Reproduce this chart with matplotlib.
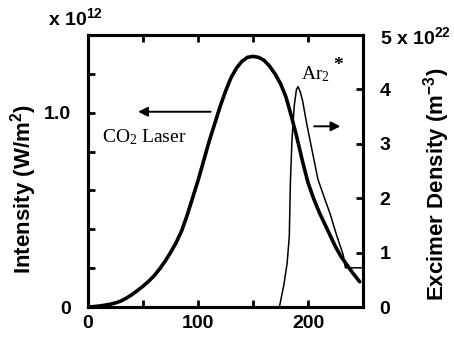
import matplotlib
matplotlib.use("Agg")
import matplotlib.pyplot as plt
from matplotlib.ticker import MultipleLocator, FixedLocator

plt.rcParams["font.family"] = ["Liberation Sans", "DejaVu Sans"]
plt.rcParams["font.weight"] = "bold"
plt.rcParams["mathtext.default"] = "regular"

# CO2 laser pulse intensity (units of 1e12 W/m^2) vs time
laser_t = [0, 5, 10, 15, 20, 25, 30, 35, 40, 45, 50, 55, 60, 65, 70, 75, 80, 85,
           90, 95, 100, 105, 110, 115, 120, 125, 130, 135, 140, 145, 150, 155,
           160, 165, 170, 175, 180, 185, 190, 195, 200, 205, 210, 215, 220, 225,
           230, 235, 240, 247]
laser_i = [0.00, 0.002, 0.005, 0.009, 0.014, 0.021, 0.031, 0.046, 0.064, 0.085,
           0.107, 0.132, 0.160, 0.195, 0.235, 0.28, 0.33, 0.39, 0.47, 0.56, 0.65,
           0.75, 0.85, 0.94, 1.03, 1.11, 1.18, 1.23, 1.265, 1.285, 1.29, 1.285,
           1.27, 1.24, 1.20, 1.15, 1.08, 0.98, 0.87, 0.75, 0.64, 0.56, 0.49,
           0.43, 0.37, 0.31, 0.26, 0.22, 0.18, 0.13]

# Ar2* excimer density (units of 1e22 m^-3) vs time
ar_t = [174, 178, 181, 183, 184, 185.5, 187.5, 189.5, 191, 193, 195, 199, 204,
        209, 215, 220, 226, 232, 234, 250]
ar_n = [0.0, 0.4, 0.8, 1.3, 2.3, 3.1, 3.7, 4.0, 4.05, 3.95, 3.8, 3.35, 2.85,
        2.35, 2.0, 1.72, 1.32, 0.96, 0.72, 0.72]

x_ticks = [0, 100, 200]
left_ticks = [0, 1.0]
left_labels = ["0", "1.0"]
right_ticks = [0, 1, 2, 3, 4, 5]
right_labels = ["0", "1", "2", "3", "4", "5 x 10$^{22}$"]

W, H = 454, 341
fig = plt.figure(figsize=(W / 100, H / 100), dpi=100)
ax = fig.add_axes([88 / W, 1 - 307 / H, (363 - 88) / W, (307 - 35) / H])
ax2 = ax.twinx()

ax.plot(laser_t, laser_i, color="black", lw=2.6, solid_capstyle="round",
        solid_joinstyle="round")
ax2.plot(ar_t, ar_n, color="black", lw=1.1, solid_joinstyle="round")

ax.set_xlim(0, 250)
ax.set_ylim(0, 1.4)
ax2.set_ylim(0, 5)

ax.set_xticks(x_ticks)
ax.set_xticklabels([str(v) for v in x_ticks])
ax.xaxis.set_minor_locator(FixedLocator([50, 150]))
ax.set_yticks(left_ticks)
ax.set_yticklabels(left_labels)
ax.yaxis.set_minor_locator(MultipleLocator(0.2))
ax2.set_yticks(right_ticks)
ax2.set_yticklabels(right_labels)

for a in (ax, ax2):
    for s in a.spines.values():
        s.set_linewidth(2.2)
ax.tick_params(axis="x", which="both", direction="in", top=True, length=5, width=2,
               labelsize=14, pad=6)
ax.tick_params(axis="y", which="both", direction="in", length=5, width=2,
               labelsize=14, pad=12)
ax2.tick_params(axis="y", which="both", direction="in", length=5, width=2,
                labelsize=14, pad=12)

ax.set_ylabel("Intensity (W/m$^2$)", fontsize=16, fontweight="bold")
ax.yaxis.set_label_coords(-49 / 275, 0.435)
ax2.set_ylabel("Excimer Density (m$^{-3}$)", fontsize=16, fontweight="bold")
ax2.yaxis.set_label_coords((421 - 88) / 275, 0.45)

fig.text(48 / W, 1 - 18 / H, "x 10$^{12}$", fontsize=14, fontweight="bold",
         ha="left", va="center")

ax.annotate("", xy=(43, 1.005), xytext=(114, 1.005),
            arrowprops=dict(arrowstyle="-|>", color="black", lw=1.4,
                            mutation_scale=14))
ax.annotate("", xy=(232, 0.93), xytext=(203, 0.93),
            arrowprops=dict(arrowstyle="-|>", color="black", lw=1.4,
                            mutation_scale=14))

serif = ["Liberation Serif", "DejaVu Serif"]
ax.text(13, 0.875, "CO$_2$ Laser", fontsize=14, family=serif, fontweight="normal",
        ha="left", va="center")
ax.text(194, 1.20, "Ar$_2$", fontsize=14, family=serif, fontweight="normal",
        ha="left", va="center")
ax.text(227, 1.245, "*", fontsize=14, family=serif, fontweight="bold",
        ha="center", va="center")

fig.savefig("out.png", dpi=100)
